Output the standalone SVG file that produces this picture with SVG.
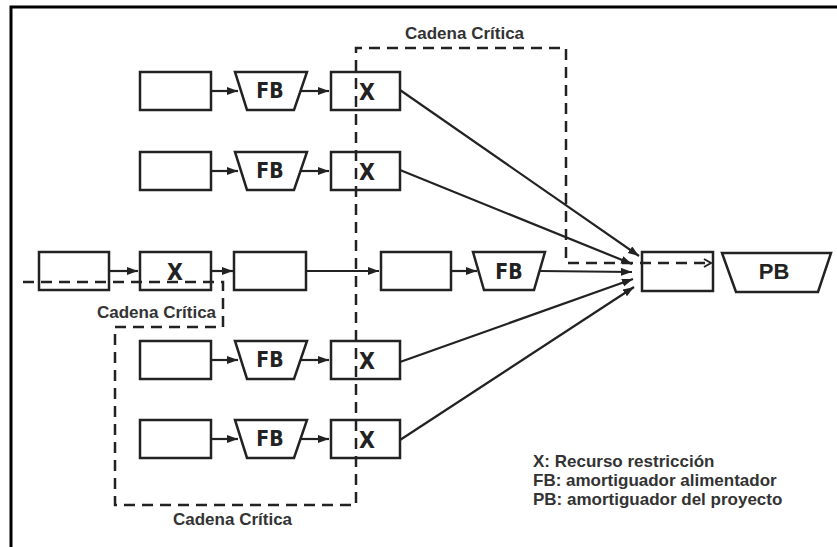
<svg xmlns="http://www.w3.org/2000/svg" width="837" height="547" viewBox="0 0 837 547">
<style>
.bx{fill:#fff;stroke:#222;stroke-width:2.5}
.ln{fill:none;stroke:#222;stroke-width:2.2}
.dash{fill:none;stroke:#222;stroke-width:2.5;stroke-dasharray:11 7}
.fb{font-family:'DejaVu Sans Condensed','DejaVu Sans',sans-serif;font-stretch:condensed;font-weight:bold;font-size:21px;fill:#222;text-anchor:middle}
.x{font-family:'DejaVu Sans Condensed','DejaVu Sans',sans-serif;font-stretch:condensed;font-weight:bold;font-size:23px;fill:#222;text-anchor:middle}
.pb{font-family:'Liberation Sans',Arial,sans-serif;font-weight:bold;font-size:22px;fill:#222;text-anchor:middle}
.lbl{font-family:'Liberation Sans',Arial,sans-serif;font-weight:bold;font-size:17px;fill:#333}
</style>
<defs>
<marker id="ah" markerUnits="userSpaceOnUse" markerWidth="12" markerHeight="9" refX="11" refY="4" orient="auto">
<path d="M0,0 L11,4 L0,8 z" fill="#222"/>
</marker>
<marker id="oh" markerUnits="userSpaceOnUse" markerWidth="10" markerHeight="10" refX="8" refY="5" orient="auto">
<path d="M1,1 L8,5 L1,9" fill="none" stroke="#222" stroke-width="2"/>
</marker>
</defs>
<rect width="837" height="547" fill="#fff"/>
<path d="M11,547 V7 H837" fill="none" stroke="#000" stroke-width="3"/>

<g id="r1">
<rect class="bx" x="140" y="72" width="71" height="38"/>
<polygon class="bx" points="235,72 307,72 294,110 247,110"/>
<text class="fb" x="270" y="98">FB</text>
<rect class="bx" x="331" y="72" width="69" height="38"/>
<text class="x" x="367" y="100">X</text>
</g>
<g id="r2">
<rect class="bx" x="140" y="152" width="71" height="38"/>
<polygon class="bx" points="235,152 307,152 294,190 247,190"/>
<text class="fb" x="270" y="178">FB</text>
<rect class="bx" x="331" y="152" width="69" height="38"/>
<text class="x" x="367" y="180">X</text>
</g>
<g id="r3">
<rect class="bx" x="39" y="252" width="70" height="38"/>
<rect class="bx" x="140" y="252" width="71" height="38"/>
<text class="x" x="175" y="280">X</text>
<rect class="bx" x="234" y="252" width="72" height="38"/>
<rect class="bx" x="381" y="252" width="70" height="38"/>
<polygon class="bx" points="473,252 545,252 534,290 484,290"/>
<text class="fb" x="509" y="279">FB</text>
</g>
<g id="final">
<rect class="bx" x="642" y="252" width="71" height="39"/>
</g>
<g id="pb">
<polygon class="bx" points="722,253 831,253 818,292 736,292"/>
<text class="pb" x="774" y="279">PB</text>
</g>
<g id="r4">
<rect class="bx" x="140" y="341" width="71" height="38"/>
<polygon class="bx" points="235,341 307,341 294,379 247,379"/>
<text class="fb" x="270" y="367">FB</text>
<rect class="bx" x="331" y="341" width="69" height="38"/>
<text class="x" x="367" y="369">X</text>
</g>
<g id="r5">
<rect class="bx" x="140" y="420" width="71" height="38"/>
<polygon class="bx" points="235,420 307,420 294,458 247,458"/>
<text class="fb" x="270" y="446">FB</text>
<rect class="bx" x="331" y="420" width="69" height="38"/>
<text class="x" x="367" y="448">X</text>
</g>

<g id="connectors">
<line class="ln" x1="211" y1="91" x2="238" y2="91" marker-end="url(#ah)"/>
<line class="ln" x1="301" y1="91" x2="329" y2="91" marker-end="url(#ah)"/>
<line class="ln" x1="211" y1="171" x2="238" y2="171" marker-end="url(#ah)"/>
<line class="ln" x1="301" y1="171" x2="329" y2="171" marker-end="url(#ah)"/>
<line class="ln" x1="211" y1="360" x2="238" y2="360" marker-end="url(#ah)"/>
<line class="ln" x1="301" y1="360" x2="329" y2="360" marker-end="url(#ah)"/>
<line class="ln" x1="211" y1="439" x2="238" y2="439" marker-end="url(#ah)"/>
<line class="ln" x1="301" y1="439" x2="329" y2="439" marker-end="url(#ah)"/>
<line class="ln" x1="109" y1="271" x2="138" y2="271" marker-end="url(#ah)"/>
<line class="ln" x1="211" y1="271" x2="233" y2="271" marker-end="url(#ah)"/>
<line class="ln" x1="306" y1="271" x2="379" y2="271" marker-end="url(#ah)"/>
<line class="ln" x1="451" y1="271" x2="477" y2="271" marker-end="url(#ah)"/>
<line class="ln" x1="540" y1="271" x2="632" y2="272" marker-end="url(#ah)"/>
<line class="ln" x1="400" y1="90" x2="639" y2="256" marker-end="url(#ah)"/>
<line class="ln" x1="400" y1="170" x2="632" y2="264" marker-end="url(#ah)"/>
<line class="ln" x1="400" y1="362" x2="633" y2="279" marker-end="url(#ah)"/>
<line class="ln" x1="400" y1="440" x2="634" y2="287" marker-end="url(#ah)"/>
<path class="dash" d="M23,282 H223 V327 H115 V505 H356 V48 H566 V263 H711" marker-end="url(#oh)"/>
</g>

<g id="labels">
<text class="lbl" x="405" y="39">Cadena Crítica</text>
<text class="lbl" x="97" y="318">Cadena Crítica</text>
<text class="lbl" x="173" y="525">Cadena Crítica</text>
<text class="lbl" x="533" y="467">X: Recurso restricción</text>
<text class="lbl" x="533" y="486">FB: amortiguador alimentador</text>
<text class="lbl" x="533" y="505">PB: amortiguador del proyecto</text>
</g>
</svg>
